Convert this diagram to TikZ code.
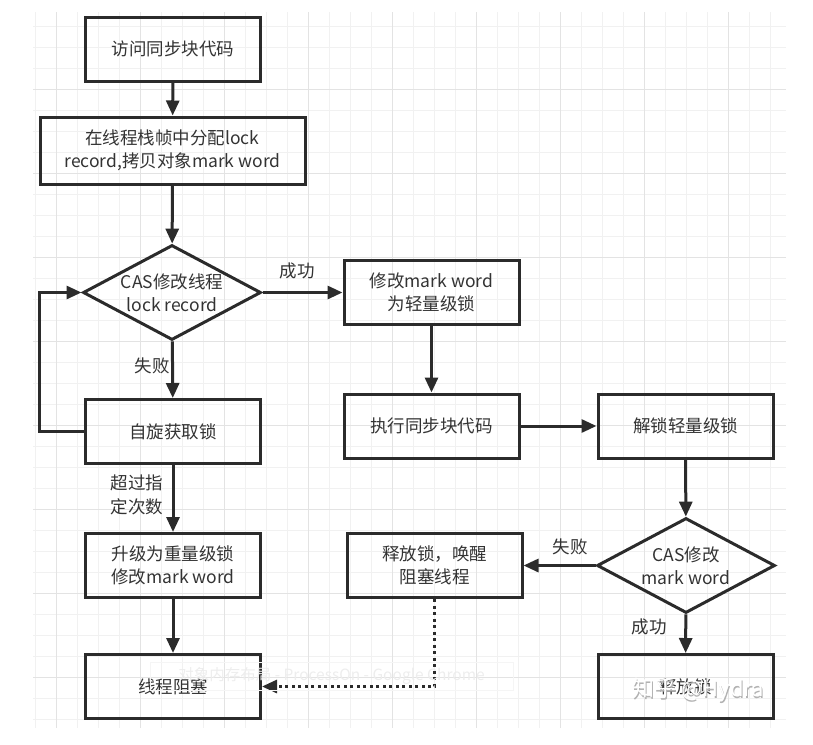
\documentclass[tikz,border=0pt]{standalone}
\usepackage{fontspec}
\setmainfont{Noto Sans CJK SC}
\usepackage{tikz}
\usetikzlibrary{shapes.geometric,arrows.meta}
\definecolor{ink}{HTML}{2B2B2B}
\definecolor{txt}{HTML}{333333}
\definecolor{gridminor}{HTML}{F1F1F1}
\definecolor{gridmajor}{HTML}{E3E3E3}

\begin{document}
\begin{tikzpicture}[x=1pt,y=-1pt,
	box/.style={draw=ink,line width=3pt,rectangle,minimum width=175pt,minimum height=64pt,align=center,text=txt,font=\fontsize{17.5}{23.5}\selectfont},
	dia/.style={draw=ink,line width=3pt,diamond,inner sep=0pt,minimum width=178pt,minimum height=95pt},
	lbl/.style={text=txt,align=center,font=\fontsize{17.5}{23.5}\selectfont},
	arr/.style={draw=ink,line width=3pt,-{Triangle[length=15pt,width=13pt]}}]
			\useasboundingbox (0,0) rectangle (813,744);
			\foreach \x in {35,56,...,770}
			\draw[gridminor,line width=1pt] (\x,12) -- (\x,728);
			\foreach \y in {26,47,...,719}
			\draw[gridminor,line width=1pt] (33,\y) -- (786,\y);
			\foreach \x in {56,140,...,728}
			\draw[gridmajor,line width=1pt] (\x,12) -- (\x,728);
			\foreach \y in {89,173,...,677}
			\draw[gridmajor,line width=1pt] (33,\y) -- (786,\y);
			\node[box] (visit) at (173,49) {访问同步块代码};
			\node[box,minimum width=265pt,minimum height=67pt] (alloc) at (172.5,150.5) {在线程栈帧中分配lock\\record,拷贝对象mark word};
			\node[dia,label={[lbl]center:CAS修改线程\\lock record}] (cas1) at (172,292.5) {};
			\node[box] (light) at (431.5,292.5) {修改mark word\\为轻量级锁};
			\node[box] (spin) at (173,431.5) {自旋获取锁};
			\node[box] (exec) at (431.5,426) {执行同步块代码};
			\node[box] (unlock) at (685.5,426) {解锁轻量级锁};
			\node[dia,label={[lbl]center:CAS修改\\mark word}] (cas2) at (686,565.5) {};
			\node[box] (heavy) at (173,565.5) {升级为重量级锁\\修改mark word};
			\node[box] (release) at (434.5,565.5) {释放锁，唤醒\\阻塞线程};
			\node[box] (block) at (173,686.5) {线程阻塞};
			\node[box] (free) at (685.5,686.5) {释放锁};
			\node[lbl] (ok1) at (297,271) {成功};
			\node[lbl] (fail1) at (152,366) {失败};
			\node[lbl] (limit) at (137,495) {超过指\\定次数};
			\node[lbl] (fail2) at (570,547) {失败};
			\node[lbl] (ok2) at (649,627) {成功};
			\draw[arr] (visit) -- (alloc);
			\draw[arr] (alloc) -- (cas1);
			\draw[arr] (cas1) -- (light);
			\draw[arr] (cas1) -- (spin);
			\draw[arr] (spin.west) -- ++(-45,0) |- (cas1.west);
			\draw[arr] (spin) -- (heavy);
			\draw[arr] (heavy) -- (block);
			\draw[arr] (light) -- (exec);
			\draw[arr] (exec) -- (unlock);
			\draw[arr] (unlock) -- (cas2);
			\draw[arr] (cas2) -- (release);
			\draw[arr] (cas2) -- (free);
			\draw[arr,dash pattern=on 3pt off 3.5pt] (release.south) |- (block.east);
			\node[draw=gray!8,line width=1pt,minimum width=363pt,minimum height=28pt,text=gray!14,font=\fontsize{15.5}{18}\selectfont] (tip) at (331.5,676) {对象内存布局 - ProcessOn - Google Chrome};
			\node[text=gray!60,font=\fontsize{22}{26}\selectfont] (wmshade) at (699.5,691.5) {知乎 @Hydra};
			\node[text=white,font=\fontsize{22}{26}\selectfont] (wm) at (698.5,690) {知乎 @Hydra};
		\end{tikzpicture}
\end{document}
